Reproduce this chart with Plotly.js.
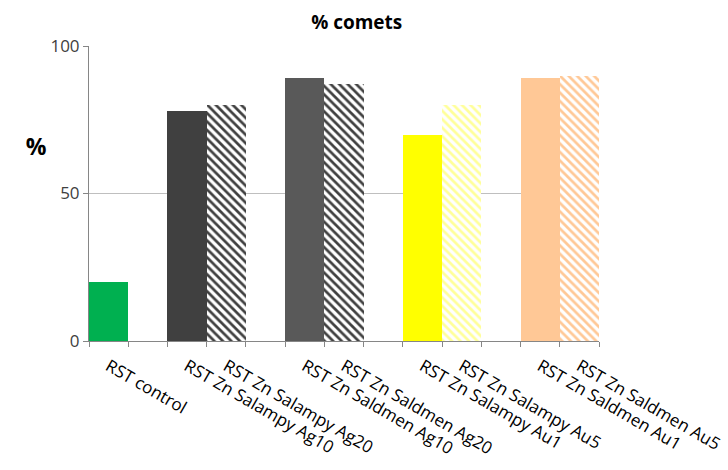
<!DOCTYPE html>
<html>
<head>
<meta charset="utf-8">
<script src="https://cdn.plot.ly/plotly-3.0.1.min.js"></script>
<style>html,body{margin:0;padding:0;background:#fff}#chart{width:728px;height:470px}</style>
</head>
<body>
<div id="chart"></div>
<script>
// Data
const categories = ['RST control','RST Zn Salampy Ag10','RST Zn Salampy Ag20','RST Zn Saldmen Ag10','RST Zn Saldmen Ag20','RST Zn Salampy Au1','RST Zn Salampy Au5','RST Zn Saldmen Au1','RST Zn Saldmen Au5'];
const values = [20, 78, 80, 89, 87, 70, 80, 89, 90];
const groups = [1, 2, 2, 2, 2]; // bars per group; groups separated by an empty slot
const barColors = ['#00B050','#404040','#404040','#595959','#404040','#FFFF00','#FFFF99','#FFC896','#FFC896'];
const hatched = [false,false,true,false,true,false,true,false,true];

// slot positions derived from group structure
const xpos = [];
let slot = 0;
groups.forEach(n => { for (let i = 0; i < n; i++) { xpos.push(slot); slot++; } slot++; });
const nSlots = slot - 1;
const bounds = [];
for (let i = 0; i <= nSlots; i++) bounds.push(i - 0.5);

const font = 'Open Sans, Noto Sans, sans-serif';
const traces = categories.map((c, i) => ({
  type: 'bar',
  x: [xpos[i]],
  y: [values[i]],
  width: 1,
  name: c,
  marker: hatched[i] ? {
    color: '#FFFFFF',
    line: {width: 0},
    pattern: {shape: '\\', fgcolor: barColors[i], bgcolor: '#FFFFFF', fgopacity: 1, size: 6, solidity: 0.45, fillmode: 'replace'}
  } : {color: barColors[i], line: {width: 0}},
  hoverinfo: 'name+y'
}));

const layout = {
  width: 728, height: 470,
  margin: {l: 89, r: 129, t: 46, b: 129},
  paper_bgcolor: '#fff', plot_bgcolor: '#fff',
  showlegend: false,
  barmode: 'overlay',
  bargap: 0,
  title: {text: '<b>% comets</b>', x: 0.49, xanchor: 'center', y: 0.953, yanchor: 'middle', font: {family: font, size: 19, color: '#000'}},
  xaxis: {
    range: [-0.5, nSlots - 0.5],
    tickvals: xpos,
    ticktext: categories,
    tickangle: 30,
    ticks: '',
    ticklabelstandoff: 8,
    tickfont: {family: font, size: 17, color: '#000'},
    showline: true, linecolor: '#868686', linewidth: 1,
    showgrid: false, zeroline: false, automargin: false,
    minor: {tickvals: bounds, ticks: 'outside', ticklen: 5, tickcolor: '#868686', showgrid: false}
  },
  yaxis: {
    range: [0, 100],
    tickvals: [0, 50, 100],
    ticks: 'outside', ticklen: 5, tickcolor: '#868686',
    tickfont: {family: font, size: 17, color: '#404040'},
    showline: true, linecolor: '#868686', linewidth: 1,
    showgrid: true, gridcolor: '#BFBFBF', gridwidth: 1,
    zeroline: false, automargin: false,
    title: {text: '<b>%</b>', font: {family: font, size: 23, color: '#000'}, standoff: 30}
  }
};

Plotly.newPlot('chart', traces, layout, {displayModeBar: false, staticPlot: true}).then(() => {
  const t = document.querySelector('.ytitle');
  if (t) {
    t.setAttribute('transform', '');
    t.setAttribute('x', 24);
    t.setAttribute('y', 155);
  }
});
</script>
</body>
</html>
